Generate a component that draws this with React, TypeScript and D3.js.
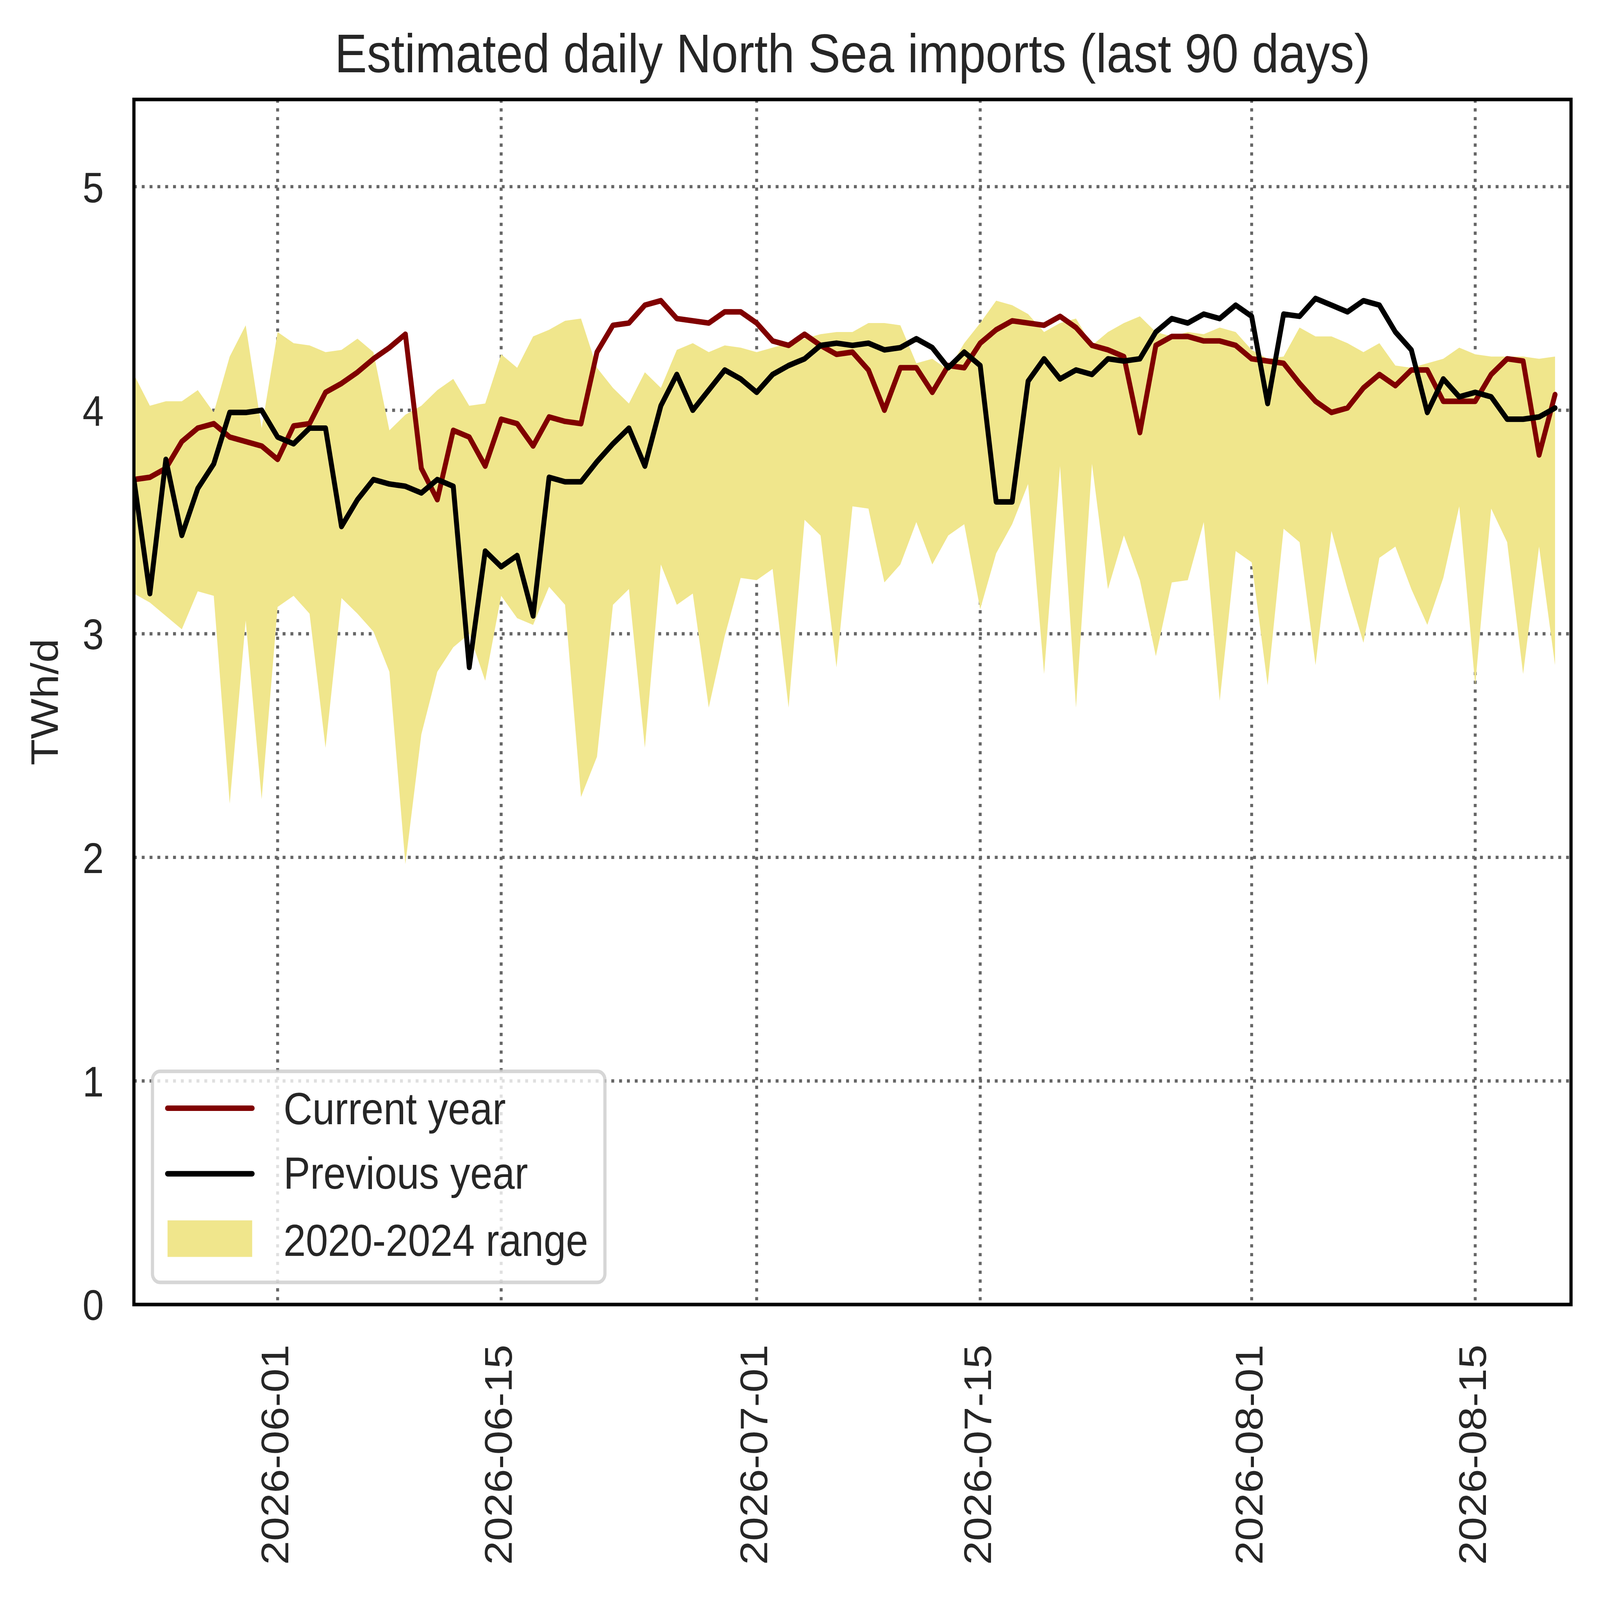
import React from "react";
import * as d3 from "d3";

const startDate = "2026-05-23";
const endDate = "2026-08-21";
const xTickLabels = ["2026-06-01", "2026-06-15", "2026-07-01", "2026-07-15", "2026-08-01", "2026-08-15"];
const yTicks = [0, 1, 2, 3, 4, 5];

const currentYear = [
  3.69, 3.70, 3.74, 3.86, 3.92, 3.94, 3.88, 3.86, 3.84, 3.78,
  3.93, 3.94, 4.08, 4.12, 4.17, 4.23, 4.28, 4.34, 3.74, 3.60,
  3.91, 3.88, 3.75, 3.96, 3.94, 3.84, 3.97, 3.95, 3.94, 4.26,
  4.38, 4.39, 4.47, 4.49, 4.41, 4.40, 4.39, 4.44, 4.44, 4.39,
  4.31, 4.29, 4.34, 4.29, 4.25, 4.26, 4.18, 4.00, 4.19, 4.19,
  4.08, 4.20, 4.19, 4.30, 4.36, 4.40, 4.39, 4.38, 4.42, 4.37,
  4.29, 4.27, 4.24, 3.90, 4.29, 4.33, 4.33, 4.31, 4.31, 4.29,
  4.23, 4.22, 4.21, 4.12, 4.04, 3.99, 4.01, 4.10, 4.16, 4.11,
  4.18, 4.18, 4.04, 4.04, 4.04, 4.16, 4.23, 4.22, 3.80, 4.07,
];

const previousYear = [
  3.69, 3.18, 3.78, 3.44, 3.65, 3.76, 3.99, 3.99, 4.00, 3.88,
  3.85, 3.92, 3.92, 3.48, 3.60, 3.69, 3.67, 3.66, 3.63, 3.69,
  3.66, 2.85, 3.37, 3.30, 3.35, 3.08, 3.70, 3.68, 3.68, 3.77,
  3.85, 3.92, 3.75, 4.02, 4.16, 4.00, 4.09, 4.18, 4.14, 4.08,
  4.16, 4.20, 4.23, 4.29, 4.30, 4.29, 4.30, 4.27, 4.28, 4.32,
  4.28, 4.19, 4.26, 4.20, 3.59, 3.59, 4.13, 4.23, 4.14, 4.18,
  4.16, 4.23, 4.22, 4.23, 4.35, 4.41, 4.39, 4.43, 4.41, 4.47,
  4.42, 4.03, 4.43, 4.42, 4.50, 4.47, 4.44, 4.49, 4.47, 4.35,
  4.27, 3.99, 4.14, 4.06, 4.08, 4.06, 3.96, 3.96, 3.97, 4.01,
];

const rangeUpper = [
  4.16, 4.02, 4.04, 4.04, 4.09, 3.99, 4.24, 4.38, 3.92, 4.35,
  4.30, 4.29, 4.26, 4.27, 4.32, 4.26, 3.91, 3.98, 4.02, 4.09,
  4.14, 4.02, 4.03, 4.25, 4.19, 4.33, 4.36, 4.40, 4.41, 4.19,
  4.10, 4.03, 4.17, 4.10, 4.27, 4.30, 4.26, 4.29, 4.28, 4.26,
  4.28, 4.30, 4.32, 4.34, 4.35, 4.35, 4.39, 4.39, 4.38, 4.21,
  4.23, 4.18, 4.30, 4.39, 4.49, 4.47, 4.43, 4.35, 4.39, 4.41,
  4.29, 4.35, 4.39, 4.42, 4.35, 4.33, 4.35, 4.34, 4.37, 4.35,
  4.27, 4.23, 4.24, 4.37, 4.33, 4.33, 4.30, 4.26, 4.30, 4.20,
  4.19, 4.21, 4.23, 4.28, 4.25, 4.24, 4.24, 4.24, 4.23, 4.24,
];

const rangeLower = [
  3.18, 3.14, 3.08, 3.02, 3.19, 3.17, 2.24, 3.06, 2.26, 3.12,
  3.17, 3.09, 2.49, 3.16, 3.09, 3.01, 2.83, 1.97, 2.55, 2.83,
  2.94, 3.00, 2.79, 3.17, 3.07, 3.04, 3.21, 3.13, 2.27, 2.45,
  3.13, 3.20, 2.49, 3.31, 3.13, 3.18, 2.67, 2.99, 3.25, 3.24,
  3.29, 2.67, 3.51, 3.44, 2.85, 3.57, 3.56, 3.23, 3.31, 3.50,
  3.31, 3.44, 3.49, 3.11, 3.36, 3.49, 3.67, 2.82, 3.75, 2.67,
  3.76, 3.20, 3.44, 3.24, 2.90, 3.23, 3.24, 3.50, 2.70, 3.37,
  3.32, 2.77, 3.47, 3.41, 2.86, 3.46, 3.20, 2.96, 3.34, 3.39,
  3.20, 3.04, 3.25, 3.57, 2.77, 3.56, 3.41, 2.82, 3.39, 2.86,
];

const legendLabels = ["Current year", "Previous year", "2020-2024 range"];

const W = 5520;
const H = 4906;
const M = { left: 462, right: 5420, top: 305, bottom: 4000 };
const FONT = "'Liberation Sans', Arial, sans-serif";
const TEXT = "#262626";
const RED = "#800000";
const KHAKI = "#f0e68c";

const parse = d3.utcParse("%Y-%m-%d");

export default function App() {
  const t0 = parse(startDate)!;
  const x = d3.scaleUtc().domain([t0, parse(endDate)!]).range([M.left, M.right]);
  const y = d3.scaleLinear().domain([0, 5.39]).range([M.bottom, M.top]);
  const dates = currentYear.map((_, i) => d3.utcDay.offset(t0, i));

  const line = d3
    .line<number>()
    .x((_, i) => x(dates[i]))
    .y((d) => y(d));
  const area = d3
    .area<number>()
    .x((_, i) => x(dates[i]))
    .y0((_, i) => y(rangeLower[i]))
    .y1((d) => y(d));

  const gridStyle = {
    stroke: "#666666",
    strokeWidth: 10,
    strokeDasharray: "10 17",
    fill: "none",
  } as const;

  const legX = 526;
  const legY = 3285;
  const rowY = [3398, 3599];

  return (
    <svg
      viewBox={`0 0 ${W} ${H}`}
      preserveAspectRatio="none"
      style={{
        position: "fixed",
        left: 0,
        top: 0,
        width: "100vw",
        height: "100vh",
        display: "block",
        background: "#ffffff",
      }}
    >
      <defs>
        <clipPath id="plotClip">
          <rect x={M.left} y={M.top} width={M.right - M.left} height={M.bottom - M.top} />
        </clipPath>
      </defs>
      <rect x={0} y={0} width={W} height={H} fill="#ffffff" />

      {/* grid */}
      <g>
        {yTicks.map((t) => (
          <line key={"gy" + t} x1={M.left} x2={M.right} y1={y(t)} y2={y(t)} {...gridStyle} />
        ))}
        {xTickLabels.map((s) => {
          const xx = x(parse(s)!);
          return <line key={"gx" + s} x1={xx} x2={xx} y1={M.top} y2={M.bottom} {...gridStyle} />;
        })}
      </g>

      {/* data */}
      <g clipPath="url(#plotClip)">
        <path d={area(rangeUpper) || ""} fill={KHAKI} stroke="none" />
        <path
          d={line(currentYear) || ""}
          fill="none"
          stroke={RED}
          strokeWidth={17}
          strokeLinejoin="round"
          strokeLinecap="round"
        />
        <path
          d={line(previousYear) || ""}
          fill="none"
          stroke="#000000"
          strokeWidth={17}
          strokeLinejoin="round"
          strokeLinecap="round"
        />
      </g>

      {/* spines */}
      <rect
        x={M.left}
        y={M.top}
        width={M.right - M.left}
        height={M.bottom - M.top}
        fill="none"
        stroke="#000000"
        strokeWidth={11}
      />

      {/* y ticks */}
      {yTicks.map((t) => (
        <text
          key={"yt" + t}
          x={358}
          y={y(t)}
          dy="0.36em"
          textAnchor="end"
          fontFamily={FONT}
          fontSize={132}
          fill={TEXT}
        >
          {t}
        </text>
      ))}

      {/* x ticks */}
      {xTickLabels.map((s) => {
        const xx = x(parse(s)!);
        return (
          <text
            key={"xt" + s}
            transform={`translate(${xx + 37},${4123}) rotate(-90)`}
            textAnchor="end"
            fontFamily={FONT}
            fontSize={132}
            fill={TEXT}
          >
            {s}
          </text>
        );
      })}

      {/* y label */}
      <text
        transform={`translate(${199},${(M.top + M.bottom) / 2}) rotate(-90)`}
        textAnchor="middle"
        fontFamily={FONT}
        fontSize={132}
        fill={TEXT}
      >
        TWh/d
      </text>

      {/* title */}
      <text
        x={(M.left + M.right) / 2}
        y={222}
        textAnchor="middle"
        fontFamily={FONT}
        fontSize={167}
        fill={TEXT}
      >
        Estimated daily North Sea imports (last 90 days)
      </text>

      {/* legend */}
      <g>
        <rect
          x={legX}
          y={legY}
          width={1561}
          height={647}
          rx={26}
          ry={26}
          fill="#ffffff"
          fillOpacity={0.8}
          stroke="#cccccc"
          strokeOpacity={0.8}
          strokeWidth={11}
        />
        <line x1={578} x2={870} y1={rowY[0]} y2={rowY[0]} stroke={RED} strokeWidth={17} strokeLinecap="round" />
        <line x1={578} x2={870} y1={rowY[1]} y2={rowY[1]} stroke="#000000" strokeWidth={17} strokeLinecap="round" />
        <rect x={578} y={3742} width={292} height={112} fill={KHAKI} />
        {legendLabels.map((l, i) => (
          <text
            key={l}
            x={978}
            y={[3447, 3645, 3851][i]}
            fontFamily={FONT}
            fontSize={138}
            fill={TEXT}
          >
            {l}
          </text>
        ))}
      </g>
    </svg>
  );
}
